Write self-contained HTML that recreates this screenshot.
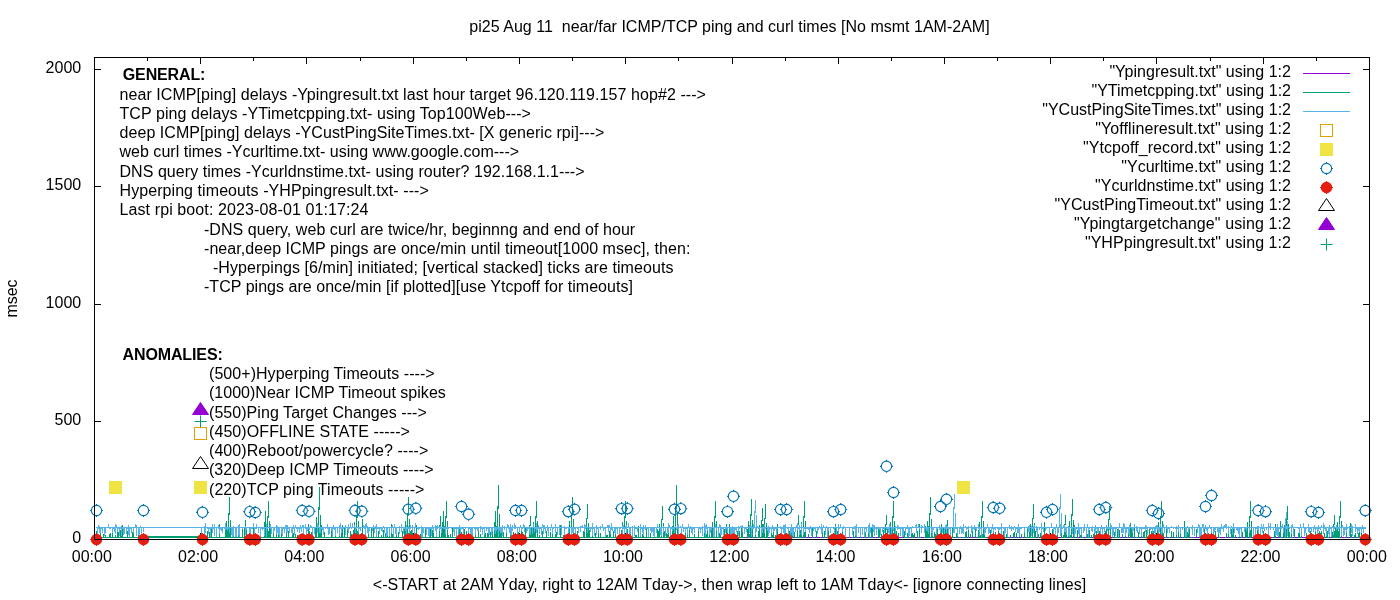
<!DOCTYPE html>
<html lang="en"><head><meta charset="utf-8"><title>pi25 ping and curl times</title>
<style>html,body{margin:0;padding:0;background:#fff;overflow:hidden}svg{display:block}text{font-family:"Liberation Sans",sans-serif;font-size:16px;fill:#000;white-space:pre}.b{font-weight:bold}</style></head><body>
<svg width="1400" height="600" viewBox="0 0 1400 600">
<rect x="0" y="0" width="1400" height="600" fill="#fff"/>
<text x="122.8" y="80.0" class="b" textLength="82.6" lengthAdjust="spacing" xml:space="preserve">GENERAL:</text>
<text x="119.5" y="100.0" textLength="586.4" lengthAdjust="spacing" xml:space="preserve">near ICMP[ping] delays -Ypingresult.txt last hour target 96.120.119.157 hop#2 ---&gt;</text>
<text x="119.5" y="119.0" textLength="411.4" lengthAdjust="spacing" xml:space="preserve">TCP ping delays -YTimetcpping.txt- using Top100Web---&gt;</text>
<text x="119.5" y="138.0" textLength="484.9" lengthAdjust="spacing" xml:space="preserve">deep ICMP[ping] delays -YCustPingSiteTimes.txt- [X generic rpi]---&gt;</text>
<text x="119.5" y="157.0" textLength="399.6" lengthAdjust="spacing" xml:space="preserve">web curl times -Ycurltime.txt- using www.google.com---&gt;</text>
<text x="119.5" y="177.0" textLength="465.0" lengthAdjust="spacing" xml:space="preserve">DNS query times -Ycurldnstime.txt- using router? 192.168.1.1---&gt;</text>
<text x="119.5" y="196.0" textLength="309.3" lengthAdjust="spacing" xml:space="preserve">Hyperping timeouts -YHPpingresult.txt- ---&gt;</text>
<text x="119.5" y="215.0" textLength="249.0" lengthAdjust="spacing" xml:space="preserve">Last rpi boot: 2023-08-01 01:17:24</text>
<text x="204.0" y="235.0" textLength="431.2" lengthAdjust="spacing" xml:space="preserve">-DNS query, web curl are twice/hr, beginnng and end of hour</text>
<text x="204.0" y="254.0" textLength="486.4" lengthAdjust="spacing" xml:space="preserve">-near,deep ICMP pings are once/min until timeout[1000 msec], then:</text>
<text x="212.9" y="273.0" textLength="460.5" lengthAdjust="spacing" xml:space="preserve">-Hyperpings [6/min] initiated; [vertical stacked] ticks are timeouts</text>
<text x="204.0" y="292.0" textLength="428.9" lengthAdjust="spacing" xml:space="preserve">-TCP pings are once/min [if plotted][use Ytcpoff for timeouts]</text>
<text x="122.5" y="360.0" class="b" textLength="100.3" lengthAdjust="spacing" xml:space="preserve">ANOMALIES:</text>
<text x="209.0" y="379.0" textLength="225.6" lengthAdjust="spacing" xml:space="preserve">(500+)Hyperping Timeouts ----&gt;</text>
<text x="209.0" y="398.0" textLength="236.8" lengthAdjust="spacing" xml:space="preserve">(1000)Near ICMP Timeout spikes</text>
<text x="209.0" y="418.0" textLength="217.8" lengthAdjust="spacing" xml:space="preserve">(550)Ping Target Changes ---&gt;</text>
<text x="209.0" y="437.0" textLength="200.9" lengthAdjust="spacing" xml:space="preserve">(450)OFFLINE STATE -----&gt;</text>
<text x="209.0" y="456.0" textLength="219.3" lengthAdjust="spacing" xml:space="preserve">(400)Reboot/powercycle? ----&gt;</text>
<text x="209.0" y="475.0" textLength="224.7" lengthAdjust="spacing" xml:space="preserve">(320)Deep ICMP Timeouts ----&gt;</text>
<text x="209.0" y="495.0" textLength="215.4" lengthAdjust="spacing" xml:space="preserve">(220)TCP ping Timeouts -----&gt;</text>
<path d="M94.5,539.5v-6.5M94.5,57.5v6.5M147.5,539.5v-3.5M147.5,57.5v3.5M200.5,539.5v-6.5M200.5,57.5v6.5M253.5,539.5v-3.5M253.5,57.5v3.5M306.5,539.5v-6.5M306.5,57.5v6.5M360.5,539.5v-3.5M360.5,57.5v3.5M413.5,539.5v-6.5M413.5,57.5v6.5M466.5,539.5v-3.5M466.5,57.5v3.5M519.5,539.5v-6.5M519.5,57.5v6.5M572.5,539.5v-3.5M572.5,57.5v3.5M625.5,539.5v-6.5M625.5,57.5v6.5M678.5,539.5v-3.5M678.5,57.5v3.5M732.5,539.5v-6.5M732.5,57.5v6.5M785.5,539.5v-3.5M785.5,57.5v3.5M838.5,539.5v-6.5M838.5,57.5v6.5M891.5,539.5v-3.5M891.5,57.5v3.5M944.5,539.5v-6.5M944.5,57.5v6.5M997.5,539.5v-3.5M997.5,57.5v3.5M1050.5,539.5v-6.5M1050.5,57.5v6.5M1103.5,539.5v-3.5M1103.5,57.5v3.5M1156.5,539.5v-6.5M1156.5,57.5v6.5M1210.5,539.5v-3.5M1210.5,57.5v3.5M1263.5,539.5v-6.5M1263.5,57.5v6.5M1316.5,539.5v-3.5M1316.5,57.5v3.5M1369.5,539.5v-6.5M1369.5,57.5v6.5M94.5,69.5h6.5M1369.5,69.5h-6.5M94.5,186.5h6.5M1369.5,186.5h-6.5M94.5,304.5h6.5M1369.5,304.5h-6.5M94.5,421.5h6.5M1369.5,421.5h-6.5M94.5,539.5h6.5M1369.5,539.5h-6.5" fill="none" stroke="#000" stroke-width="1" shape-rendering="crispEdges"/>
<path d="M742,537.5H1365.5" fill="none" stroke="#9400D3" stroke-width="1" shape-rendering="crispEdges"/>
<path d="M96,537.5H144.5M200.5,537.5H742M743,537.5h1M745,537.5h1M747,537.5h1M749,537.5h1M750,537.5h1M753,537.5h1M757,537.5h1M761,537.5h1M763,537.5h1M765,537.5h1M770,537.5h1M774,537.5h1M775,537.5h1M780,537.5h1M785,537.5h1M787,537.5h1M790,537.5h1M794,537.5h1M795,537.5h1M798,537.5h1M799,537.5h1M801,537.5h1M803,537.5h1M805,537.5h1M814,537.5h1M820,537.5h1M824,537.5h1M825,537.5h1M827,537.5h1M828,537.5h1M829,537.5h1M832,537.5h1M833,537.5h1M835,537.5h1M838,537.5h1M844,537.5h1M846,537.5h1M849,537.5h1M852,537.5h1M856,537.5h1M858,537.5h1M860,537.5h1M861,537.5h1M864,537.5h1M869,537.5h1M875,537.5h1M878,537.5h1M883,537.5h1M886,537.5h1M887,537.5h1M893,537.5h1M895,537.5h1M897,537.5h1M902,537.5h1M905,537.5h1M906,537.5h1M907,537.5h1M909,537.5h1M911,537.5h1M912,537.5h1M917,537.5h1M918,537.5h1M919,537.5h1M920,537.5h1M924,537.5h1M926,537.5h1M933,537.5h1M937,537.5h1M939,537.5h1M945,537.5h1M947,537.5h1M950,537.5h1M952,537.5h1M953,537.5h1M955,537.5h1M956,537.5h1M959,537.5h1M960,537.5h1M962,537.5h1M963,537.5h1M964,537.5h1M966,537.5h1M968,537.5h1M976,537.5h1M979,537.5h1M980,537.5h1M984,537.5h1M985,537.5h1M986,537.5h1M988,537.5h1M996,537.5h1M997,537.5h1M1004,537.5h1M1005,537.5h1M1008,537.5h1M1018,537.5h1M1022,537.5h1M1024,537.5h1M1026,537.5h1M1028,537.5h1M1029,537.5h1M1031,537.5h1M1033,537.5h1M1038,537.5h1M1041,537.5h1M1042,537.5h1M1057,537.5h1M1062,537.5h1M1066,537.5h1M1070,537.5h1M1073,537.5h1M1074,537.5h1M1075,537.5h1M1082,537.5h1M1083,537.5h1M1088,537.5h1M1095,537.5h1M1097,537.5h1M1099,537.5h1M1101,537.5h1M1108,537.5h1M1109,537.5h1M1110,537.5h1M1115,537.5h1M1116,537.5h1M1118,537.5h1M1127,537.5h1M1128,537.5h1M1131,537.5h1M1132,537.5h1M1136,537.5h1M1137,537.5h1M1138,537.5h1M1141,537.5h1M1145,537.5h1M1148,537.5h1M1149,537.5h1M1152,537.5h1M1157,537.5h1M1160,537.5h1M1165,537.5h1M1166,537.5h1M1168,537.5h1M1169,537.5h1M1173,537.5h1M1174,537.5h1M1175,537.5h1M1177,537.5h1M1182,537.5h1M1187,537.5h1M1188,537.5h1M1191,537.5h1M1193,537.5h1M1201,537.5h1M1202,537.5h1M1203,537.5h1M1209,537.5h1M1216,537.5h1M1219,537.5h1M1225,537.5h1M1232,537.5h1M1237,537.5h1M1238,537.5h1M1241,537.5h1M1242,537.5h1M1245,537.5h1M1247,537.5h1M1249,537.5h1M1251,537.5h1M1253,537.5h1M1255,537.5h1M1257,537.5h1M1259,537.5h1M1267,537.5h1M1272,537.5h1M1279,537.5h1M1280,537.5h1M1281,537.5h1M1286,537.5h1M1287,537.5h1M1288,537.5h1M1289,537.5h1M1292,537.5h1M1294,537.5h1M1299,537.5h1M1301,537.5h1M1306,537.5h1M1314,537.5h1M1315,537.5h1M1316,537.5h1M1317,537.5h1M1320,537.5h1M1326,537.5h1M1328,537.5h1M1333,537.5h1M1334,537.5h1M1344,537.5h1M1352,537.5h1M1357,537.5h1M1358,537.5h1M96.5,538V531M97.5,538V534M100.5,538V530M103.5,538V534M105.5,538V535M109.5,538V534M110.5,538V533M112.5,538V532M115.5,538V535M117.5,538V530M118.5,538V532M120.5,538V530M121.5,538V526M122.5,538V525M127.5,538V531M132.5,538V532M133.5,538V529M138.5,538V528M140.5,538V535M201.5,538V532M203.5,538V535M207.5,538V531M209.5,538V532M211.5,538V527M219.5,538V524M227.5,538V528M229.5,538V529M230.5,538V531M233.5,538V528M235.5,538V528M238.5,538V535M239.5,538V532M242.5,538V529M246.5,538V531M249.5,538V534M250.5,538V533M253.5,538V524M267.5,538V527M268.5,538V531M270.5,538V525M273.5,538V533M276.5,538V528M278.5,538V529M281.5,538V528M286.5,538V531M288.5,538V531M292.5,538V532M293.5,538V533M295.5,538V534M297.5,538V535M300.5,538V534M304.5,538V535M308.5,538V524M309.5,538V531M311.5,538V532M318.5,538V534M319.5,538V533M321.5,538V525M324.5,538V532M331.5,538V528M335.5,538V529M339.5,538V531M341.5,538V533M342.5,538V525M344.5,538V528M347.5,538V530M350.5,538V531M351.5,538V534M353.5,538V531M357.5,538V531M358.5,538V533M360.5,538V534M362.5,538V519M368.5,538V531M371.5,538V528M373.5,538V528M376.5,538V528M378.5,538V531M381.5,538V535M383.5,538V530M385.5,538V533M387.5,538V535M389.5,538V528M391.5,538V524M392.5,538V534M396.5,538V532M398.5,538V532M402.5,538V531M408.5,538V534M409.5,538V531M410.5,538V531M411.5,538V530M412.5,538V529M414.5,538V534M416.5,538V525M420.5,538V534M425.5,538V529M430.5,538V527M432.5,538V530M433.5,538V532M436.5,538V526M441.5,538V532M442.5,538V530M443.5,538V529M448.5,538V535M450.5,538V534M452.5,538V528M456.5,538V528M459.5,538V528M461.5,538V532M463.5,538V531M464.5,538V529M466.5,538V531M470.5,538V532M475.5,538V531M478.5,538V530M480.5,538V534M484.5,538V530M485.5,538V533M487.5,538V533M488.5,538V532M490.5,538V532M492.5,538V531M496.5,538V533M500.5,538V531M501.5,538V531M503.5,538V532M506.5,538V529M510.5,538V531M511.5,538V532M513.5,538V532M518.5,538V532M519.5,538V534M521.5,538V531M522.5,538V532M523.5,538V534M525.5,538V528M529.5,538V534M530.5,538V535M532.5,538V531M534.5,538V532M537.5,538V528M539.5,538V535M542.5,538V531M546.5,538V531M550.5,538V532M552.5,538V534M555.5,538V534M556.5,538V532M560.5,538V525M563.5,538V535M569.5,538V535M571.5,538V532M575.5,538V535M577.5,538V531M587.5,538V531M589.5,538V530M592.5,538V533M595.5,538V533M598.5,538V531M600.5,538V533M606.5,538V535M607.5,538V535M609.5,538V531M610.5,538V533M613.5,538V531M615.5,538V533M625.5,538V535M627.5,538V529M630.5,538V533M632.5,538V531M635.5,538V535M636.5,538V535M638.5,538V526M642.5,538V534M643.5,538V534M646.5,538V529M648.5,538V532M650.5,538V533M654.5,538V534M657.5,538V529M661.5,538V529M664.5,538V531M666.5,538V533M667.5,538V534M668.5,538V528M673.5,538V532M678.5,538V532M681.5,538V530M685.5,538V531M687.5,538V533M689.5,538V528M694.5,538V534M698.5,538V529M704.5,538V530M706.5,538V534M707.5,538V530M709.5,538V534M711.5,538V530M719.5,538V533M720.5,538V528M724.5,538V529M726.5,538V524M729.5,538V524M731.5,538V533M733.5,538V534M737.5,538V531M739.5,538V531M741.5,538V528M742.5,538V529M749.5,538V534M752.5,538V529M755.5,538V531M759.5,538V530M763.5,538V530M767.5,538V531M771.5,538V530M772.5,538V535M773.5,538V532M775.5,538V535M777.5,538V524M785.5,538V525M788.5,538V535M789.5,538V531M790.5,538V534M791.5,538V531M792.5,538V532M794.5,538V532M804.5,538V532M805.5,538V531M808.5,538V534M812.5,538V528M816.5,538V531M822.5,538V532M824.5,538V531M828.5,538V527M835.5,538V524M837.5,538V531M842.5,538V532M849.5,538V535M853.5,538V531M855.5,538V532M865.5,538V532M868.5,538V528M871.5,538V527M872.5,538V529M878.5,538V529M879.5,538V528M881.5,538V534M883.5,538V530M892.5,538V533M893.5,538V535M896.5,538V531M898.5,538V533M904.5,538V531M907.5,538V533M911.5,538V533M912.5,538V533M913.5,538V535M914.5,538V533M917.5,538V531M919.5,538V524M925.5,538V526M927.5,538V535M928.5,538V526M932.5,538V530M934.5,538V532M935.5,538V534M937.5,538V528M941.5,538V524M943.5,538V528M945.5,538V528M947.5,538V520M948.5,538V534M950.5,538V534M952.5,538V528M956.5,538V533M957.5,538V531M965.5,538V532M966.5,538V531M968.5,538V529M970.5,538V534M972.5,538V531M975.5,538V528M980.5,538V535M982.5,538V534M984.5,538V534M990.5,538V530M993.5,538V535M995.5,538V532M998.5,538V531M1003.5,538V531M1006.5,538V534M1007.5,538V534M1010.5,538V535M1013.5,538V533M1014.5,538V532M1016.5,538V533M1021.5,538V534M1024.5,538V532M1027.5,538V529M1029.5,538V535M1030.5,538V531M1035.5,538V531M1037.5,538V528M1038.5,538V534M1040.5,538V533M1041.5,538V527M1044.5,538V522M1049.5,538V531M1052.5,538V529M1053.5,538V533M1055.5,538V535M1057.5,538V531M1061.5,538V530M1063.5,538V535M1065.5,538V532M1070.5,538V535M1073.5,538V530M1074.5,538V525M1077.5,538V530M1080.5,538V535M1081.5,538V530M1086.5,538V532M1087.5,538V534M1089.5,538V530M1091.5,538V535M1093.5,538V534M1094.5,538V532M1095.5,538V535M1096.5,538V531M1099.5,538V531M1102.5,538V533M1104.5,538V533M1106.5,538V533M1110.5,538V531M1112.5,538V531M1114.5,538V532M1117.5,538V529M1119.5,538V530M1122.5,538V534M1125.5,538V533M1128.5,538V528M1130.5,538V523M1131.5,538V529M1132.5,538V529M1134.5,538V526M1138.5,538V532M1141.5,538V531M1143.5,538V532M1144.5,538V531M1146.5,538V530M1149.5,538V528M1151.5,538V531M1153.5,538V531M1157.5,538V532M1160.5,538V533M1163.5,538V533M1166.5,538V529M1171.5,538V531M1173.5,538V532M1176.5,538V534M1178.5,538V531M1180.5,538V529M1184.5,538V521M1185.5,538V529M1187.5,538V532M1188.5,538V530M1189.5,538V528M1196.5,538V529M1200.5,538V533M1201.5,538V529M1204.5,538V528M1208.5,538V533M1211.5,538V535M1213.5,538V532M1215.5,538V531M1218.5,538V532M1226.5,538V533M1228.5,538V531M1231.5,538V529M1232.5,538V530M1233.5,538V529M1235.5,538V535M1242.5,538V532M1245.5,538V528M1247.5,538V531M1249.5,538V531M1250.5,538V530M1253.5,538V533M1257.5,538V529M1258.5,538V534M1263.5,538V531M1264.5,538V535M1265.5,538V535M1266.5,538V535M1274.5,538V531M1275.5,538V524M1279.5,538V532M1280.5,538V521M1285.5,538V535M1286.5,538V533M1289.5,538V532M1291.5,538V533M1294.5,538V529M1298.5,538V533M1299.5,538V528M1301.5,538V531M1306.5,538V533M1308.5,538V535M1310.5,538V531M1313.5,538V535M1315.5,538V531M1317.5,538V533M1319.5,538V531M1320.5,538V533M1321.5,538V531M1324.5,538V533M1326.5,538V530M1327.5,538V531M1329.5,538V532M1332.5,538V532M1334.5,538V531M1336.5,538V529M1338.5,538V531M1339.5,538V534M1341.5,538V531M1346.5,538V532M1350.5,538V523M1351.5,538V534M1354.5,538V535M1355.5,538V533M1358.5,538V533M1359.5,538V532M1361.5,538V533" fill="none" stroke="#009E73" stroke-width="1" shape-rendering="crispEdges"/>
<path d="M144,537H201" fill="none" stroke="#009E73" stroke-width="2" shape-rendering="crispEdges"/>
<path d="M229.5,497V515M228.5,513V538M230.5,520V538M226.5,521V538M225.5,529V538M245.5,520V528M244.5,527V538M246.5,530V538M265.5,511V523M264.5,522V538M266.5,526V538M268.5,501V518M267.5,516V538M269.5,521V538M265.5,522V538M264.5,530V538M319.5,487V510M318.5,507V538M320.5,515V538M316.5,517V538M315.5,527V538M357.5,501V518M356.5,516V538M358.5,521V538M354.5,522V538M353.5,530V538M408.5,497V515M407.5,513V538M409.5,519V538M405.5,521V538M404.5,529V538M440.5,516V526M439.5,525V538M441.5,528V538M443.5,511V523M442.5,522V538M444.5,526V538M446.5,501V518M445.5,516V538M447.5,521V538M443.5,522V538M442.5,530V538M495.5,511V523M494.5,522V538M496.5,526V538M498.5,485V509M497.5,506V538M499.5,514V538M495.5,516V538M494.5,526V538M530.5,516V526M529.5,525V538M531.5,528V538M536.5,501V518M535.5,516V538M537.5,521V538M533.5,522V538M532.5,530V538M572.5,497V515M571.5,513V538M573.5,519V538M569.5,521V538M568.5,529V538M587.5,504V519M586.5,518V538M588.5,523V538M584.5,524V538M583.5,531V538M625.5,501V518M624.5,516V538M626.5,521V538M622.5,522V538M621.5,530V538M662.5,506V520M661.5,519V538M663.5,523V538M659.5,524V538M658.5,531V538M676.5,485V509M675.5,506V538M677.5,514V538M673.5,516V538M672.5,526V538M715.5,501V518M714.5,516V538M716.5,521V538M712.5,522V538M711.5,530V538M751.5,499V516M750.5,514V538M752.5,520V538M748.5,521V538M747.5,529V538M762.5,508V521M761.5,520V538M763.5,524V538M759.5,525V538M758.5,531V538M765.5,504V519M764.5,518V538M766.5,523V538M762.5,524V538M761.5,530V538M798.5,515V525M797.5,524V538M799.5,528V538M804.5,501V518M803.5,516V538M805.5,521V538M801.5,522V538M800.5,530V538M886.5,515V525M885.5,524V538M887.5,528V538M893.5,501V518M892.5,516V538M894.5,521V538M890.5,522V538M889.5,530V538M930.5,497V515M929.5,513V538M931.5,519V538M927.5,521V538M926.5,529V538M982.5,501V518M981.5,516V538M983.5,521V538M979.5,522V538M978.5,530V538M1033.5,504V519M1032.5,518V538M1034.5,523V538M1030.5,524V538M1029.5,530V538M1065.5,515V525M1064.5,524V538M1066.5,528V538M1072.5,499V516M1071.5,514V538M1073.5,520V538M1069.5,521V538M1068.5,529V538M1109.5,506V520M1108.5,519V538M1110.5,524V538M1106.5,525V538M1105.5,531V538M1161.5,501V518M1160.5,516V538M1162.5,521V538M1158.5,522V538M1157.5,530V538M1250.5,501V518M1249.5,516V538M1251.5,521V538M1247.5,522V538M1246.5,530V538M1287.5,506V520M1286.5,519V538M1288.5,524V538M1284.5,525V538M1283.5,531V538M1334.5,515V525M1333.5,524V538M1335.5,528V538M1340.5,501V518M1339.5,516V538M1341.5,521V538M1337.5,522V538M1336.5,530V538" fill="none" stroke="#009E73" stroke-width="1" shape-rendering="crispEdges"/>
<path d="M96,527.5H1365.5M97.5,527V537M98,528.5h1M98.5,527V525M99.5,527V533M99.5,527V526M100.5,527V533M101,528.5h1M102.5,527V533M104.5,527V536M105.5,527V533M108.5,527V524M109,528.5h1M110,528.5h1M112.5,527V533M113,528.5h1M114.5,527V532M115.5,527V534M115.5,527V524M116.5,527V525M117.5,527V532M118,528.5h1M119.5,527V536M120,528.5h1M121.5,527V536M122,528.5h1M123.5,527V535M124.5,527V534M126.5,527V534M127,528.5h1M128.5,527V535M128.5,527V525M129.5,527V537M130,528.5h1M131.5,527V533M133.5,527V533M135.5,527V524M136.5,527V536M136.5,527V525M138.5,527V535M139.5,527V537M140.5,527V526M141.5,527V537M143.5,527V532M201.5,527V536M204.5,527V536M204.5,527V526M205.5,527V533M205.5,527V523M207,528.5h1M208.5,527V534M209,528.5h1M210.5,527V537M211,528.5h1M212.5,527V533M212.5,527V524M213,528.5h1M214.5,527V536M214.5,527V524M216.5,527V537M218,528.5h1M218.5,527V525M219.5,527V534M220.5,527V530M221.5,527V531M222.5,527V533M224,528.5h1M225.5,527V530M225.5,527V523M226,528.5h1M227.5,527V531M228,528.5h1M229.5,527V533M231.5,527V535M232.5,527V537M233.5,527V537M233.5,527V526M235.5,527V537M236.5,527V537M238.5,527V535M238.5,527V525M239.5,527V537M239.5,527V524M242,528.5h1M245.5,527V535M245.5,527V526M246.5,527V530M249.5,527V537M250.5,527V534M251,528.5h1M252,528.5h1M253.5,527V523M254.5,527V534M255,528.5h1M256,528.5h1M256.5,527V524M258.5,527V533M260.5,527V537M261,528.5h1M262.5,527V530M263,528.5h1M264.5,527V536M266.5,527V537M266.5,527V524M267,528.5h1M270,528.5h1M270.5,527V524M271.5,527V534M273.5,527V533M274.5,527V531M276.5,527V534M276.5,527V525M277.5,527V533M277.5,527V526M278.5,527V535M279.5,527V537M281.5,527V534M282.5,527V536M283,528.5h1M284.5,527V533M285,528.5h1M285.5,527V525M286.5,527V533M286.5,527V525M287.5,527V533M287.5,527V525M288,528.5h1M289.5,527V533M291.5,527V533M292.5,527V535M293,528.5h1M293.5,527V525M294.5,527V535M295.5,527V525M296,528.5h1M297.5,527V532M298,528.5h1M299.5,527V533M300,528.5h1M300.5,527V525M301.5,527V532M302.5,527V525M303.5,527V535M303.5,527V525M305,528.5h1M305.5,527V524M306.5,527V536M307.5,527V531M308,528.5h1M309.5,527V530M310.5,527V525M311.5,527V526M312.5,527V535M314.5,527V534M317.5,527V533M317.5,527V523M318.5,527V525M319.5,527V533M320.5,527V533M321,528.5h1M322.5,527V530M323.5,527V535M325,528.5h1M327,528.5h1M327.5,527V524M328.5,527V535M329.5,527V534M331.5,527V531M332.5,527V537M333,528.5h1M333.5,527V525M334.5,527V530M335.5,527V536M337.5,527V533M339.5,527V536M339.5,527V525M340,528.5h1M340.5,527V523M341.5,527V533M342,528.5h1M343,528.5h1M345.5,527V535M345.5,527V525M347.5,527V530M348.5,527V533M348.5,527V524M349,528.5h1M350.5,527V523M351,528.5h1M352.5,527V523M354.5,527V525M355.5,527V535M356,528.5h1M358.5,527V533M359,528.5h1M360.5,527V531M363.5,527V525M364,528.5h1M364.5,527V526M365.5,527V536M365.5,527V524M366.5,527V523M367.5,527V533M367.5,527V526M368.5,527V534M369.5,527V531M372.5,527V531M373.5,527V525M374.5,527V533M375,528.5h1M375.5,527V526M376.5,527V537M376.5,527V524M377,528.5h1M378,528.5h1M379.5,527V534M380,528.5h1M381.5,527V531M382.5,527V532M383.5,527V526M384.5,527V533M386.5,527V537M387.5,527V536M389.5,527V536M391.5,527V533M392.5,527V525M393.5,527V537M394.5,527V524M395.5,527V534M396.5,527V535M399.5,527V534M399.5,527V526M401.5,527V532M401.5,527V524M403.5,527V534M404,528.5h1M405.5,527V531M406.5,527V536M406.5,527V525M407,528.5h1M408,528.5h1M408.5,527V526M409.5,527V533M410,528.5h1M410.5,527V525M412.5,527V533M412.5,527V525M414.5,527V534M415.5,527V523M417,528.5h1M418.5,527V530M419,528.5h1M421.5,527V537M421.5,527V526M422.5,527V537M423.5,527V533M425,528.5h1M426.5,527V535M427,528.5h1M428.5,527V536M429.5,527V537M430,528.5h1M431.5,527V536M432,528.5h1M432.5,527V525M433.5,527V533M435.5,527V531M435.5,527V525M436.5,527V537M437,528.5h1M437.5,527V525M439.5,527V531M440,528.5h1M440.5,527V526M441.5,527V533M443,528.5h1M444,528.5h1M445.5,527V535M446,528.5h1M447.5,527V530M448,528.5h1M451,528.5h1M453.5,527V532M454.5,527V536M455,528.5h1M456.5,527V537M457,528.5h1M458.5,527V537M459,528.5h1M459.5,527V525M460.5,527V536M461,528.5h1M462,528.5h1M463.5,527V535M465,528.5h1M468.5,527V535M469,528.5h1M470.5,527V534M471.5,527V537M472.5,527V536M474,528.5h1M475.5,527V535M476,528.5h1M477.5,527V531M478.5,527V531M480.5,527V532M480.5,527V526M481,528.5h1M482.5,527V535M483,528.5h1M484.5,527V535M486.5,527V531M487,528.5h1M488.5,527V534M489.5,527V535M491.5,527V535M492.5,527V532M494.5,527V530M495.5,527V534M496.5,527V531M497,528.5h1M498.5,527V537M499.5,527V531M500.5,527V533M501.5,527V533M502.5,527V536M502.5,527V525M504.5,527V530M504.5,527V526M506.5,527V533M507.5,527V524M508,528.5h1M508.5,527V525M509.5,527V533M510.5,527V535M510.5,527V524M511.5,527V537M512.5,527V531M512.5,527V525M514,528.5h1M514.5,527V523M515,528.5h1M515.5,527V525M517.5,527V535M519.5,527V532M520.5,527V525M521.5,527V531M522,528.5h1M523.5,527V524M524.5,527V532M524.5,527V525M526.5,527V533M527.5,527V531M528,528.5h1M529.5,527V533M530.5,527V535M532.5,527V534M533.5,527V524M534.5,527V532M535,528.5h1M536.5,527V533M536.5,527V523M537.5,527V530M538,528.5h1M538.5,527V525M539.5,527V534M540,528.5h1M541.5,527V535M542.5,527V524M543.5,527V534M543.5,527V525M544,528.5h1M544.5,527V525M545.5,527V533M547.5,527V531M547.5,527V525M548.5,527V536M550.5,527V531M551.5,527V524M552.5,527V534M553,528.5h1M555.5,527V533M555.5,527V524M557.5,527V535M559.5,527V535M559.5,527V525M561.5,527V535M561.5,527V525M564.5,527V536M564.5,527V526M565,528.5h1M566,528.5h1M568.5,527V536M569,528.5h1M571.5,527V535M572.5,527V533M573.5,527V533M574,528.5h1M575.5,527V534M577,528.5h1M578.5,527V533M580.5,527V532M580.5,527V526M581.5,527V526M582.5,527V525M584.5,527V532M584.5,527V524M585,528.5h1M585.5,527V525M586.5,527V526M587.5,527V533M589,528.5h1M590.5,527V532M591,528.5h1M592.5,527V536M592.5,527V523M593,528.5h1M594.5,527V536M596.5,527V535M596.5,527V525M597,528.5h1M598.5,527V533M600.5,527V530M600.5,527V526M602.5,527V524M603.5,527V531M604,528.5h1M605.5,527V537M607.5,527V525M608.5,527V532M608.5,527V525M609.5,527V525M610.5,527V534M611.5,527V530M611.5,527V523M612.5,527V531M614.5,527V533M615.5,527V534M616,528.5h1M617.5,527V534M619.5,527V537M620,528.5h1M622.5,527V537M622.5,527V525M623,528.5h1M623.5,527V525M624.5,527V537M625,528.5h1M625.5,527V526M626.5,527V534M626.5,527V525M628.5,527V523M629.5,527V537M630.5,527V534M632.5,527V537M632.5,527V526M634.5,527V536M634.5,527V525M635,528.5h1M636,528.5h1M637.5,527V532M640.5,527V537M640.5,527V524M641,528.5h1M642.5,527V533M643.5,527V536M643.5,527V525M644,528.5h1M645.5,527V530M645.5,527V525M646,528.5h1M647,528.5h1M648.5,527V537M650.5,527V531M651.5,527V533M652.5,527V532M653.5,527V536M654.5,527V537M656.5,527V533M657.5,527V524M659,528.5h1M660.5,527V535M661.5,527V536M663.5,527V533M663.5,527V526M665.5,527V536M667.5,527V533M668.5,527V533M668.5,527V523M669.5,527V525M670.5,527V536M671,528.5h1M672.5,527V531M673,528.5h1M674.5,527V533M675.5,527V526M676.5,527V530M677,528.5h1M677.5,527V525M678.5,527V535M678.5,527V524M680.5,527V526M681.5,527V535M682.5,527V524M683.5,527V532M684,528.5h1M685.5,527V533M686,528.5h1M687.5,527V535M688.5,527V524M689.5,527V530M690,528.5h1M690.5,527V526M691.5,527V533M692.5,527V535M693,528.5h1M694.5,527V533M698.5,527V531M699,528.5h1M700.5,527V533M701,528.5h1M702.5,527V536M702.5,527V526M704.5,527V533M704.5,527V523M705.5,527V537M705.5,527V525M706,528.5h1M706.5,527V524M707.5,527V531M709.5,527V535M710.5,527V533M711.5,527V530M713.5,527V537M714.5,527V537M715.5,527V524M716.5,527V531M718.5,527V537M719.5,527V524M720.5,527V535M720.5,527V525M721.5,527V535M722,528.5h1M723.5,527V535M725.5,527V533M726,528.5h1M727.5,527V534M729,528.5h1M730.5,527V535M731.5,527V535M732.5,527V535M732.5,527V526M733.5,527V535M734.5,527V534M735.5,527V530M736.5,527V532M738.5,527V536M738.5,527V526M739,528.5h1M740.5,527V526M741.5,527V526M742.5,527V532M742.5,527V525M744.5,527V534M745,528.5h1M746.5,527V532M749.5,527V533M749.5,527V525M750.5,527V526M751.5,527V537M751.5,527V526M752,528.5h1M753,528.5h1M753.5,527V524M755.5,527V535M756.5,527V532M756.5,527V526M757.5,527V526M758,528.5h1M759,528.5h1M761.5,527V536M762.5,527V533M763,528.5h1M764.5,527V533M764.5,527V524M765,528.5h1M767.5,527V531M768.5,527V536M768.5,527V526M769.5,527V533M770,528.5h1M771.5,527V533M772,528.5h1M772.5,527V525M773.5,527V532M774.5,527V531M775,528.5h1M776.5,527V536M777,528.5h1M780,528.5h1M780.5,527V526M781.5,527V537M782,528.5h1M783.5,527V533M783.5,527V525M784.5,527V537M784.5,527V525M785.5,527V533M785.5,527V524M787,528.5h1M788.5,527V536M790.5,527V535M791.5,527V533M791.5,527V524M792.5,527V536M793.5,527V537M795.5,527V532M796.5,527V525M797.5,527V531M797.5,527V523M798,528.5h1M799.5,527V535M799.5,527V525M801.5,527V535M801.5,527V523M803.5,527V535M804,528.5h1M805.5,527V532M806,528.5h1M807,528.5h1M808.5,527V530M809.5,527V533M810,528.5h1M810.5,527V526M811.5,527V536M813.5,527V531M814,528.5h1M815.5,527V532M817.5,527V534M818.5,527V530M819.5,527V526M820,528.5h1M821.5,527V534M821.5,527V524M822.5,527V533M823.5,527V525M825.5,527V535M826.5,527V526M827.5,527V537M828.5,527V531M830.5,527V533M833,528.5h1M834.5,527V537M835.5,527V526M836.5,527V537M838.5,527V535M838.5,527V524M839,528.5h1M840.5,527V524M842.5,527V532M843,528.5h1M843.5,527V526M845.5,527V536M849.5,527V537M852.5,527V535M853,528.5h1M854,528.5h1M854.5,527V526M855.5,527V536M855.5,527V526M856.5,527V537M856.5,527V524M858.5,527V533M860.5,527V537M862.5,527V535M864.5,527V537M865,528.5h1M866.5,527V532M868.5,527V533M868.5,527V525M869.5,527V537M869.5,527V523M870.5,527V533M872,528.5h1M872.5,527V524M873.5,527V532M873.5,527V525M874.5,527V536M874.5,527V525M875,528.5h1M876.5,527V535M877,528.5h1M878,528.5h1M879.5,527V530M880.5,527V535M882.5,527V532M883,528.5h1M884.5,527V533M886.5,527V530M887,528.5h1M888.5,527V533M889.5,527V535M889.5,527V524M890.5,527V526M891.5,527V536M892,528.5h1M893.5,527V531M895.5,527V536M895.5,527V526M897.5,527V530M897.5,527V525M898,528.5h1M898.5,527V526M899,528.5h1M900.5,527V536M901,528.5h1M902.5,527V537M903.5,527V537M905.5,527V535M906,528.5h1M907,528.5h1M907.5,527V525M908.5,527V537M909.5,527V536M910,528.5h1M911.5,527V534M912.5,527V526M915.5,527V525M916.5,527V533M916.5,527V524M918.5,527V524M919,528.5h1M921.5,527V533M921.5,527V525M922.5,527V526M924.5,527V533M924.5,527V524M925,528.5h1M926.5,527V531M927.5,527V531M928.5,527V534M931.5,527V533M932.5,527V536M933.5,527V530M936.5,527V537M937,528.5h1M939.5,527V530M939.5,527V525M940.5,527V536M941,528.5h1M942.5,527V533M944.5,527V534M945,528.5h1M945.5,527V525M946.5,527V533M946.5,527V524M947,528.5h1M947.5,527V526M948.5,527V536M949,528.5h1M950.5,527V536M953.5,527V533M954.5,527V533M955,528.5h1M956,528.5h1M957.5,527V536M959.5,527V534M960,528.5h1M960.5,527V526M961.5,527V534M962.5,527V533M963.5,527V534M963.5,527V524M965.5,527V526M966.5,527V530M967,528.5h1M968.5,527V530M968.5,527V526M971.5,527V533M971.5,527V525M972.5,527V531M973,528.5h1M974.5,527V530M974.5,527V525M975,528.5h1M976.5,527V531M978,528.5h1M978.5,527V524M979.5,527V536M980,528.5h1M981.5,527V537M983,528.5h1M984.5,527V535M985.5,527V533M986,528.5h1M987.5,527V524M988.5,527V534M989.5,527V533M991.5,527V533M992,528.5h1M992.5,527V524M993.5,527V537M994,528.5h1M995.5,527V530M997,528.5h1M998.5,527V531M999.5,527V530M1000,528.5h1M1001.5,527V536M1001.5,527V523M1003,528.5h1M1004.5,527V537M1005.5,527V533M1007.5,527V537M1009,528.5h1M1009.5,527V525M1010,528.5h1M1011.5,527V531M1011.5,527V526M1012,528.5h1M1013.5,527V530M1014.5,527V526M1015.5,527V532M1016,528.5h1M1017.5,527V533M1018.5,527V533M1018.5,527V524M1019.5,527V537M1020,528.5h1M1021,528.5h1M1024.5,527V533M1027,528.5h1M1028.5,527V532M1028.5,527V526M1029.5,527V532M1029.5,527V525M1031.5,527V536M1031.5,527V526M1032,528.5h1M1033.5,527V533M1033.5,527V526M1034,528.5h1M1034.5,527V525M1036.5,527V532M1036.5,527V526M1037.5,527V537M1039.5,527V530M1041.5,527V536M1041.5,527V523M1042,528.5h1M1043.5,527V532M1045.5,527V531M1046,528.5h1M1049.5,527V536M1051.5,527V523M1053.5,527V537M1054,528.5h1M1055.5,527V534M1056.5,527V524M1057.5,527V535M1058.5,527V533M1060.5,527V536M1060.5,527V524M1061.5,527V533M1061.5,527V525M1062,528.5h1M1063.5,527V525M1064.5,527V532M1064.5,527V525M1065.5,527V532M1066.5,527V535M1068.5,527V536M1068.5,527V526M1069.5,527V537M1071,528.5h1M1072.5,527V534M1074.5,527V537M1075.5,527V534M1076,528.5h1M1077,528.5h1M1078.5,527V534M1078.5,527V523M1079.5,527V537M1080,528.5h1M1081.5,527V535M1083.5,527V533M1084.5,527V531M1084.5,527V524M1086.5,527V537M1087.5,527V524M1088.5,527V537M1089,528.5h1M1091.5,527V531M1092.5,527V532M1092.5,527V526M1094.5,527V533M1095.5,527V533M1095.5,527V525M1096,528.5h1M1097.5,527V533M1098.5,527V534M1100.5,527V535M1101,528.5h1M1101.5,527V525M1102.5,527V537M1103,528.5h1M1104.5,527V532M1106,528.5h1M1106.5,527V525M1107.5,527V531M1108,528.5h1M1109.5,527V530M1110,528.5h1M1110.5,527V523M1111,528.5h1M1111.5,527V525M1112.5,527V537M1113.5,527V535M1114,528.5h1M1115.5,527V536M1116,528.5h1M1118.5,527V537M1119.5,527V523M1121.5,527V533M1122.5,527V533M1123.5,527V533M1123.5,527V523M1124,528.5h1M1124.5,527V524M1125.5,527V536M1126.5,527V533M1127,528.5h1M1128.5,527V534M1129.5,527V536M1129.5,527V525M1130.5,527V526M1131,528.5h1M1132.5,527V533M1133.5,527V531M1134.5,527V524M1136.5,527V531M1136.5,527V526M1137.5,527V533M1139.5,527V534M1140,528.5h1M1141.5,527V536M1142,528.5h1M1143,528.5h1M1144,528.5h1M1145.5,527V532M1145.5,527V525M1146,528.5h1M1146.5,527V526M1147.5,527V535M1149,528.5h1M1150.5,527V530M1151,528.5h1M1152.5,527V537M1153,528.5h1M1154.5,527V533M1155.5,527V537M1155.5,527V526M1156,528.5h1M1156.5,527V525M1157.5,527V530M1157.5,527V525M1158.5,527V534M1159.5,527V532M1160.5,527V524M1161.5,527V535M1162.5,527V533M1163.5,527V524M1164.5,527V533M1166,528.5h1M1166.5,527V525M1167.5,527V533M1168,528.5h1M1169.5,527V533M1171.5,527V526M1173,528.5h1M1175,528.5h1M1176.5,527V535M1176.5,527V526M1177,528.5h1M1178.5,527V532M1178.5,527V525M1180.5,527V534M1182.5,527V530M1185.5,527V537M1186.5,527V537M1187.5,527V526M1188.5,527V534M1189,528.5h1M1191,528.5h1M1192.5,527V535M1192.5,527V525M1194.5,527V536M1197.5,527V533M1198.5,527V524M1199.5,527V537M1199.5,527V525M1200.5,527V536M1201.5,527V535M1202.5,527V524M1203.5,527V532M1203.5,527V524M1204,528.5h1M1205,528.5h1M1205.5,527V525M1206.5,527V531M1207.5,527V537M1208,528.5h1M1209.5,527V525M1210,528.5h1M1211.5,527V534M1213.5,527V534M1214.5,527V532M1215.5,527V530M1217.5,527V532M1218.5,527V534M1219.5,527V533M1220.5,527V535M1221,528.5h1M1221.5,527V524M1222,528.5h1M1223.5,527V532M1223.5,527V526M1224.5,527V525M1225.5,527V524M1226,528.5h1M1226.5,527V524M1228.5,527V534M1228.5,527V526M1230.5,527V534M1231.5,527V526M1232.5,527V535M1233,528.5h1M1233.5,527V523M1234.5,527V533M1236.5,527V530M1237.5,527V531M1238.5,527V534M1239.5,527V537M1240,528.5h1M1241.5,527V537M1244.5,527V532M1245,528.5h1M1246.5,527V531M1249.5,527V533M1253.5,527V537M1255.5,527V536M1256,528.5h1M1257.5,527V530M1257.5,527V526M1258.5,527V533M1258.5,527V526M1260.5,527V536M1261,528.5h1M1261.5,527V524M1262.5,527V533M1263,528.5h1M1263.5,527V524M1264.5,527V531M1266.5,527V530M1268.5,527V535M1268.5,527V523M1269.5,527V526M1270.5,527V530M1270.5,527V523M1273.5,527V530M1275.5,527V536M1276.5,527V535M1277.5,527V536M1277.5,527V524M1278.5,527V537M1279,528.5h1M1280,528.5h1M1281,528.5h1M1281.5,527V526M1282.5,527V524M1283.5,527V533M1285.5,527V537M1286,528.5h1M1286.5,527V526M1287.5,527V536M1289,528.5h1M1291.5,527V534M1291.5,527V525M1292.5,527V524M1293.5,527V536M1298,528.5h1M1299.5,527V533M1300.5,527V524M1301.5,527V536M1303.5,527V523M1304.5,527V536M1305.5,527V533M1306,528.5h1M1308.5,527V532M1308.5,527V524M1309.5,527V533M1310,528.5h1M1311.5,527V532M1313.5,527V532M1314,528.5h1M1314.5,527V525M1315.5,527V532M1316,528.5h1M1317.5,527V535M1318.5,527V531M1318.5,527V525M1319,528.5h1M1320.5,527V530M1321.5,527V525M1323.5,527V534M1323.5,527V523M1324,528.5h1M1324.5,527V525M1325.5,527V531M1326.5,527V536M1328.5,527V534M1329.5,527V537M1329.5,527V525M1330,528.5h1M1331.5,527V537M1332.5,527V526M1333.5,527V535M1334,528.5h1M1334.5,527V526M1336.5,527V530M1336.5,527V525M1337,528.5h1M1338.5,527V530M1339,528.5h1M1339.5,527V524M1341.5,527V536M1342.5,527V525M1343.5,527V536M1344.5,527V535M1345.5,527V530M1346.5,527V533M1346.5,527V524M1347,528.5h1M1349.5,527V536M1349.5,527V526M1351.5,527V533M1351.5,527V524M1352.5,527V536M1352.5,527V526M1355.5,527V532M1355.5,527V524M1356,528.5h1M1357.5,527V534M1358.5,527V531M1359.5,527V532M1360,528.5h1M1361.5,527V533M1362,528.5h1M1362.5,527V525M1363.5,527V533M1364,528.5h1M1365,528.5h1" fill="none" stroke="#56B4E9" stroke-width="1" shape-rendering="crispEdges"/>
<path d="M755.5,500V513M754.5,511V528M756.5,515V528M954.5,494V509M953.5,507V528M955.5,513V528M1060.5,494V509M1059.5,507V528M1061.5,513V528M1286.5,512V519M1285.5,518V528M1287.5,521V528" fill="none" stroke="#56B4E9" stroke-width="1" shape-rendering="crispEdges"/>
<rect x="194.5" y="427.5" width="12.0" height="12.0" fill="none" stroke="#E69F00" stroke-width="1"/>
<rect x="109.5" y="481.5" width="12.0" height="12.0" fill="#F0E442" stroke="#F0E442" stroke-width="1"/>
<rect x="194.5" y="481.5" width="12.0" height="12.0" fill="#F0E442" stroke="#F0E442" stroke-width="1"/>
<rect x="957.5" y="481.5" width="12.0" height="12.0" fill="#F0E442" stroke="#F0E442" stroke-width="1"/>
<circle cx="96.5" cy="510.5" r="5.15" fill="none" stroke="#0072B2" stroke-width="1.1"/>
<path d="M96.5,504.0V505.4M96.5,515.6V517.0M90.0,510.5H91.3M101.7,510.5H103.0" stroke="#0072B2" stroke-width="1.2" fill="none"/>
<circle cx="143.5" cy="510.5" r="5.15" fill="none" stroke="#0072B2" stroke-width="1.1"/>
<path d="M143.5,504.0V505.4M143.5,515.6V517.0M137.0,510.5H138.3M148.7,510.5H150.0" stroke="#0072B2" stroke-width="1.2" fill="none"/>
<circle cx="202.5" cy="512.3" r="5.15" fill="none" stroke="#0072B2" stroke-width="1.1"/>
<path d="M202.5,505.8V507.1M202.5,517.4V518.8M196.0,512.3H197.3M207.7,512.3H209.0" stroke="#0072B2" stroke-width="1.2" fill="none"/>
<circle cx="249.7" cy="511.7" r="5.15" fill="none" stroke="#0072B2" stroke-width="1.1"/>
<path d="M249.7,505.2V506.6M249.7,516.9V518.2M243.2,511.7H244.5M254.8,511.7H256.2" stroke="#0072B2" stroke-width="1.2" fill="none"/>
<circle cx="255.3" cy="512.5" r="5.15" fill="none" stroke="#0072B2" stroke-width="1.1"/>
<path d="M255.3,506.0V507.4M255.3,517.6V519.0M248.8,512.5H250.2M260.4,512.5H261.8" stroke="#0072B2" stroke-width="1.2" fill="none"/>
<circle cx="302.2" cy="510.5" r="5.15" fill="none" stroke="#0072B2" stroke-width="1.1"/>
<path d="M302.2,504.0V505.4M302.2,515.6V517.0M295.7,510.5H297.1M307.3,510.5H308.7" stroke="#0072B2" stroke-width="1.2" fill="none"/>
<circle cx="309.0" cy="511.3" r="5.15" fill="none" stroke="#0072B2" stroke-width="1.1"/>
<path d="M309.0,504.8V506.2M309.0,516.5V517.8M302.5,511.3H303.9M314.1,511.3H315.5" stroke="#0072B2" stroke-width="1.2" fill="none"/>
<circle cx="355.0" cy="510.5" r="5.15" fill="none" stroke="#0072B2" stroke-width="1.1"/>
<path d="M355.0,504.0V505.4M355.0,515.6V517.0M348.5,510.5H349.9M360.1,510.5H361.5" stroke="#0072B2" stroke-width="1.2" fill="none"/>
<circle cx="361.8" cy="511.3" r="5.15" fill="none" stroke="#0072B2" stroke-width="1.1"/>
<path d="M361.8,504.8V506.2M361.8,516.5V517.8M355.3,511.3H356.7M366.9,511.3H368.3" stroke="#0072B2" stroke-width="1.2" fill="none"/>
<circle cx="408.3" cy="509.3" r="5.15" fill="none" stroke="#0072B2" stroke-width="1.1"/>
<path d="M408.3,502.8V504.2M408.3,514.5V515.8M401.8,509.3H403.2M413.4,509.3H414.8" stroke="#0072B2" stroke-width="1.2" fill="none"/>
<circle cx="415.8" cy="508.3" r="5.15" fill="none" stroke="#0072B2" stroke-width="1.1"/>
<path d="M415.8,501.8V503.2M415.8,513.5V514.8M409.3,508.3H410.7M420.9,508.3H422.3" stroke="#0072B2" stroke-width="1.2" fill="none"/>
<circle cx="461.5" cy="506.5" r="5.15" fill="none" stroke="#0072B2" stroke-width="1.1"/>
<path d="M461.5,500.0V501.4M461.5,511.6V513.0M455.0,506.5H456.4M466.6,506.5H468.0" stroke="#0072B2" stroke-width="1.2" fill="none"/>
<circle cx="468.6" cy="514.3" r="5.15" fill="none" stroke="#0072B2" stroke-width="1.1"/>
<path d="M468.6,507.8V509.1M468.6,519.4V520.8M462.1,514.3H463.5M473.8,514.3H475.1" stroke="#0072B2" stroke-width="1.2" fill="none"/>
<circle cx="515.5" cy="510.5" r="5.15" fill="none" stroke="#0072B2" stroke-width="1.1"/>
<path d="M515.5,504.0V505.4M515.5,515.6V517.0M509.0,510.5H510.4M520.6,510.5H522.0" stroke="#0072B2" stroke-width="1.2" fill="none"/>
<circle cx="521.5" cy="510.5" r="5.15" fill="none" stroke="#0072B2" stroke-width="1.1"/>
<path d="M521.5,504.0V505.4M521.5,515.6V517.0M515.0,510.5H516.4M526.6,510.5H528.0" stroke="#0072B2" stroke-width="1.2" fill="none"/>
<circle cx="568.3" cy="511.6" r="5.15" fill="none" stroke="#0072B2" stroke-width="1.1"/>
<path d="M568.3,505.1V506.5M568.3,516.8V518.1M561.8,511.6H563.1M573.4,511.6H574.8" stroke="#0072B2" stroke-width="1.2" fill="none"/>
<circle cx="574.5" cy="509.3" r="5.15" fill="none" stroke="#0072B2" stroke-width="1.1"/>
<path d="M574.5,502.8V504.2M574.5,514.5V515.8M568.0,509.3H569.4M579.6,509.3H581.0" stroke="#0072B2" stroke-width="1.2" fill="none"/>
<circle cx="621.6" cy="508.6" r="5.15" fill="none" stroke="#0072B2" stroke-width="1.1"/>
<path d="M621.6,502.1V503.5M621.6,513.8V515.1M615.1,508.6H616.5M626.8,508.6H628.1" stroke="#0072B2" stroke-width="1.2" fill="none"/>
<circle cx="627.3" cy="508.6" r="5.15" fill="none" stroke="#0072B2" stroke-width="1.1"/>
<path d="M627.3,502.1V503.5M627.3,513.8V515.1M620.8,508.6H622.1M632.4,508.6H633.8" stroke="#0072B2" stroke-width="1.2" fill="none"/>
<circle cx="674.5" cy="509.3" r="5.15" fill="none" stroke="#0072B2" stroke-width="1.1"/>
<path d="M674.5,502.8V504.2M674.5,514.5V515.8M668.0,509.3H669.4M679.6,509.3H681.0" stroke="#0072B2" stroke-width="1.2" fill="none"/>
<circle cx="680.8" cy="508.6" r="5.15" fill="none" stroke="#0072B2" stroke-width="1.1"/>
<path d="M680.8,502.1V503.5M680.8,513.8V515.1M674.3,508.6H675.6M685.9,508.6H687.3" stroke="#0072B2" stroke-width="1.2" fill="none"/>
<circle cx="727.5" cy="511.6" r="5.15" fill="none" stroke="#0072B2" stroke-width="1.1"/>
<path d="M727.5,505.1V506.5M727.5,516.8V518.1M721.0,511.6H722.4M732.6,511.6H734.0" stroke="#0072B2" stroke-width="1.2" fill="none"/>
<circle cx="733.5" cy="496.3" r="5.15" fill="none" stroke="#0072B2" stroke-width="1.1"/>
<path d="M733.5,489.8V491.2M733.5,501.4V502.8M727.0,496.3H728.4M738.6,496.3H740.0" stroke="#0072B2" stroke-width="1.2" fill="none"/>
<circle cx="780.6" cy="509.5" r="5.15" fill="none" stroke="#0072B2" stroke-width="1.1"/>
<path d="M780.6,503.0V504.4M780.6,514.6V516.0M774.1,509.5H775.5M785.8,509.5H787.1" stroke="#0072B2" stroke-width="1.2" fill="none"/>
<circle cx="786.6" cy="509.5" r="5.15" fill="none" stroke="#0072B2" stroke-width="1.1"/>
<path d="M786.6,503.0V504.4M786.6,514.6V516.0M780.1,509.5H781.5M791.8,509.5H793.1" stroke="#0072B2" stroke-width="1.2" fill="none"/>
<circle cx="833.5" cy="511.6" r="5.15" fill="none" stroke="#0072B2" stroke-width="1.1"/>
<path d="M833.5,505.1V506.5M833.5,516.8V518.1M827.0,511.6H828.4M838.6,511.6H840.0" stroke="#0072B2" stroke-width="1.2" fill="none"/>
<circle cx="840.7" cy="509.5" r="5.15" fill="none" stroke="#0072B2" stroke-width="1.1"/>
<path d="M840.7,503.0V504.4M840.7,514.6V516.0M834.2,509.5H835.6M845.9,509.5H847.2" stroke="#0072B2" stroke-width="1.2" fill="none"/>
<circle cx="886.5" cy="466.3" r="5.15" fill="none" stroke="#0072B2" stroke-width="1.1"/>
<path d="M886.5,459.8V461.2M886.5,471.4V472.8M880.0,466.3H881.4M891.6,466.3H893.0" stroke="#0072B2" stroke-width="1.2" fill="none"/>
<circle cx="893.5" cy="492.5" r="5.15" fill="none" stroke="#0072B2" stroke-width="1.1"/>
<path d="M893.5,486.0V487.4M893.5,497.6V499.0M887.0,492.5H888.4M898.6,492.5H900.0" stroke="#0072B2" stroke-width="1.2" fill="none"/>
<circle cx="940.5" cy="506.5" r="5.15" fill="none" stroke="#0072B2" stroke-width="1.1"/>
<path d="M940.5,500.0V501.4M940.5,511.6V513.0M934.0,506.5H935.4M945.6,506.5H947.0" stroke="#0072B2" stroke-width="1.2" fill="none"/>
<circle cx="946.5" cy="499.3" r="5.15" fill="none" stroke="#0072B2" stroke-width="1.1"/>
<path d="M946.5,492.8V494.2M946.5,504.4V505.8M940.0,499.3H941.4M951.6,499.3H953.0" stroke="#0072B2" stroke-width="1.2" fill="none"/>
<circle cx="993.3" cy="507.5" r="5.15" fill="none" stroke="#0072B2" stroke-width="1.1"/>
<path d="M993.3,501.0V502.4M993.3,512.6V514.0M986.8,507.5H988.1M998.4,507.5H999.8" stroke="#0072B2" stroke-width="1.2" fill="none"/>
<circle cx="999.6" cy="508.3" r="5.15" fill="none" stroke="#0072B2" stroke-width="1.1"/>
<path d="M999.6,501.8V503.2M999.6,513.5V514.8M993.1,508.3H994.5M1004.8,508.3H1006.1" stroke="#0072B2" stroke-width="1.2" fill="none"/>
<circle cx="1046.5" cy="512.3" r="5.15" fill="none" stroke="#0072B2" stroke-width="1.1"/>
<path d="M1046.5,505.8V507.1M1046.5,517.4V518.8M1040.0,512.3H1041.3M1051.7,512.3H1053.0" stroke="#0072B2" stroke-width="1.2" fill="none"/>
<circle cx="1052.5" cy="509.5" r="5.15" fill="none" stroke="#0072B2" stroke-width="1.1"/>
<path d="M1052.5,503.0V504.4M1052.5,514.6V516.0M1046.0,509.5H1047.3M1057.7,509.5H1059.0" stroke="#0072B2" stroke-width="1.2" fill="none"/>
<circle cx="1099.3" cy="509.5" r="5.15" fill="none" stroke="#0072B2" stroke-width="1.1"/>
<path d="M1099.3,503.0V504.4M1099.3,514.6V516.0M1092.8,509.5H1094.1M1104.5,509.5H1105.8" stroke="#0072B2" stroke-width="1.2" fill="none"/>
<circle cx="1105.8" cy="507.5" r="5.15" fill="none" stroke="#0072B2" stroke-width="1.1"/>
<path d="M1105.8,501.0V502.4M1105.8,512.6V514.0M1099.3,507.5H1100.6M1111.0,507.5H1112.3" stroke="#0072B2" stroke-width="1.2" fill="none"/>
<circle cx="1152.3" cy="510.5" r="5.15" fill="none" stroke="#0072B2" stroke-width="1.1"/>
<path d="M1152.3,504.0V505.4M1152.3,515.6V517.0M1145.8,510.5H1147.1M1157.5,510.5H1158.8" stroke="#0072B2" stroke-width="1.2" fill="none"/>
<circle cx="1158.6" cy="513.5" r="5.15" fill="none" stroke="#0072B2" stroke-width="1.1"/>
<path d="M1158.6,507.0V508.4M1158.6,518.6V520.0M1152.1,513.5H1153.4M1163.8,513.5H1165.1" stroke="#0072B2" stroke-width="1.2" fill="none"/>
<circle cx="1205.5" cy="506.5" r="5.15" fill="none" stroke="#0072B2" stroke-width="1.1"/>
<path d="M1205.5,500.0V501.4M1205.5,511.6V513.0M1199.0,506.5H1200.3M1210.7,506.5H1212.0" stroke="#0072B2" stroke-width="1.2" fill="none"/>
<circle cx="1211.5" cy="495.5" r="5.15" fill="none" stroke="#0072B2" stroke-width="1.1"/>
<path d="M1211.5,489.0V490.4M1211.5,500.6V502.0M1205.0,495.5H1206.3M1216.7,495.5H1218.0" stroke="#0072B2" stroke-width="1.2" fill="none"/>
<circle cx="1258.2" cy="510.5" r="5.15" fill="none" stroke="#0072B2" stroke-width="1.1"/>
<path d="M1258.2,504.0V505.4M1258.2,515.6V517.0M1251.7,510.5H1253.0M1263.4,510.5H1264.7" stroke="#0072B2" stroke-width="1.2" fill="none"/>
<circle cx="1265.5" cy="511.6" r="5.15" fill="none" stroke="#0072B2" stroke-width="1.1"/>
<path d="M1265.5,505.1V506.5M1265.5,516.8V518.1M1259.0,511.6H1260.3M1270.7,511.6H1272.0" stroke="#0072B2" stroke-width="1.2" fill="none"/>
<circle cx="1311.3" cy="511.6" r="5.15" fill="none" stroke="#0072B2" stroke-width="1.1"/>
<path d="M1311.3,505.1V506.5M1311.3,516.8V518.1M1304.8,511.6H1306.1M1316.5,511.6H1317.8" stroke="#0072B2" stroke-width="1.2" fill="none"/>
<circle cx="1318.5" cy="512.5" r="5.15" fill="none" stroke="#0072B2" stroke-width="1.1"/>
<path d="M1318.5,506.0V507.4M1318.5,517.6V519.0M1312.0,512.5H1313.3M1323.7,512.5H1325.0" stroke="#0072B2" stroke-width="1.2" fill="none"/>
<circle cx="1365.3" cy="510.5" r="5.15" fill="none" stroke="#0072B2" stroke-width="1.1"/>
<path d="M1365.3,504.0V505.4M1365.3,515.6V517.0M1358.8,510.5H1360.1M1370.5,510.5H1371.8" stroke="#0072B2" stroke-width="1.2" fill="none"/>
<circle cx="96.5" cy="539.5" r="5.15" fill="#E51E10" stroke="#E51E10" stroke-width="1.1"/>
<path d="M96.5,533.0V534.4M96.5,544.6V546.0M90.0,539.5H91.3M101.7,539.5H103.0" stroke="#E51E10" stroke-width="1.2" fill="none"/>
<circle cx="143.5" cy="539.5" r="5.15" fill="#E51E10" stroke="#E51E10" stroke-width="1.1"/>
<path d="M143.5,533.0V534.4M143.5,544.6V546.0M137.0,539.5H138.3M148.7,539.5H150.0" stroke="#E51E10" stroke-width="1.2" fill="none"/>
<circle cx="202.5" cy="539.5" r="5.15" fill="#E51E10" stroke="#E51E10" stroke-width="1.1"/>
<path d="M202.5,533.0V534.4M202.5,544.6V546.0M196.0,539.5H197.3M207.7,539.5H209.0" stroke="#E51E10" stroke-width="1.2" fill="none"/>
<circle cx="249.7" cy="539.5" r="5.15" fill="#E51E10" stroke="#E51E10" stroke-width="1.1"/>
<path d="M249.7,533.0V534.4M249.7,544.6V546.0M243.2,539.5H244.5M254.8,539.5H256.2" stroke="#E51E10" stroke-width="1.2" fill="none"/>
<circle cx="255.3" cy="539.5" r="5.15" fill="#E51E10" stroke="#E51E10" stroke-width="1.1"/>
<path d="M255.3,533.0V534.4M255.3,544.6V546.0M248.8,539.5H250.2M260.4,539.5H261.8" stroke="#E51E10" stroke-width="1.2" fill="none"/>
<circle cx="302.2" cy="539.5" r="5.15" fill="#E51E10" stroke="#E51E10" stroke-width="1.1"/>
<path d="M302.2,533.0V534.4M302.2,544.6V546.0M295.7,539.5H297.1M307.3,539.5H308.7" stroke="#E51E10" stroke-width="1.2" fill="none"/>
<circle cx="309.0" cy="539.5" r="5.15" fill="#E51E10" stroke="#E51E10" stroke-width="1.1"/>
<path d="M309.0,533.0V534.4M309.0,544.6V546.0M302.5,539.5H303.9M314.1,539.5H315.5" stroke="#E51E10" stroke-width="1.2" fill="none"/>
<circle cx="355.0" cy="539.5" r="5.15" fill="#E51E10" stroke="#E51E10" stroke-width="1.1"/>
<path d="M355.0,533.0V534.4M355.0,544.6V546.0M348.5,539.5H349.9M360.1,539.5H361.5" stroke="#E51E10" stroke-width="1.2" fill="none"/>
<circle cx="361.8" cy="539.5" r="5.15" fill="#E51E10" stroke="#E51E10" stroke-width="1.1"/>
<path d="M361.8,533.0V534.4M361.8,544.6V546.0M355.3,539.5H356.7M366.9,539.5H368.3" stroke="#E51E10" stroke-width="1.2" fill="none"/>
<circle cx="408.3" cy="539.5" r="5.15" fill="#E51E10" stroke="#E51E10" stroke-width="1.1"/>
<path d="M408.3,533.0V534.4M408.3,544.6V546.0M401.8,539.5H403.2M413.4,539.5H414.8" stroke="#E51E10" stroke-width="1.2" fill="none"/>
<circle cx="415.8" cy="539.5" r="5.15" fill="#E51E10" stroke="#E51E10" stroke-width="1.1"/>
<path d="M415.8,533.0V534.4M415.8,544.6V546.0M409.3,539.5H410.7M420.9,539.5H422.3" stroke="#E51E10" stroke-width="1.2" fill="none"/>
<circle cx="461.5" cy="539.5" r="5.15" fill="#E51E10" stroke="#E51E10" stroke-width="1.1"/>
<path d="M461.5,533.0V534.4M461.5,544.6V546.0M455.0,539.5H456.4M466.6,539.5H468.0" stroke="#E51E10" stroke-width="1.2" fill="none"/>
<circle cx="468.6" cy="539.5" r="5.15" fill="#E51E10" stroke="#E51E10" stroke-width="1.1"/>
<path d="M468.6,533.0V534.4M468.6,544.6V546.0M462.1,539.5H463.5M473.8,539.5H475.1" stroke="#E51E10" stroke-width="1.2" fill="none"/>
<circle cx="515.5" cy="539.5" r="5.15" fill="#E51E10" stroke="#E51E10" stroke-width="1.1"/>
<path d="M515.5,533.0V534.4M515.5,544.6V546.0M509.0,539.5H510.4M520.6,539.5H522.0" stroke="#E51E10" stroke-width="1.2" fill="none"/>
<circle cx="521.5" cy="539.5" r="5.15" fill="#E51E10" stroke="#E51E10" stroke-width="1.1"/>
<path d="M521.5,533.0V534.4M521.5,544.6V546.0M515.0,539.5H516.4M526.6,539.5H528.0" stroke="#E51E10" stroke-width="1.2" fill="none"/>
<circle cx="568.3" cy="539.5" r="5.15" fill="#E51E10" stroke="#E51E10" stroke-width="1.1"/>
<path d="M568.3,533.0V534.4M568.3,544.6V546.0M561.8,539.5H563.1M573.4,539.5H574.8" stroke="#E51E10" stroke-width="1.2" fill="none"/>
<circle cx="574.5" cy="539.5" r="5.15" fill="#E51E10" stroke="#E51E10" stroke-width="1.1"/>
<path d="M574.5,533.0V534.4M574.5,544.6V546.0M568.0,539.5H569.4M579.6,539.5H581.0" stroke="#E51E10" stroke-width="1.2" fill="none"/>
<circle cx="621.6" cy="539.5" r="5.15" fill="#E51E10" stroke="#E51E10" stroke-width="1.1"/>
<path d="M621.6,533.0V534.4M621.6,544.6V546.0M615.1,539.5H616.5M626.8,539.5H628.1" stroke="#E51E10" stroke-width="1.2" fill="none"/>
<circle cx="627.3" cy="539.5" r="5.15" fill="#E51E10" stroke="#E51E10" stroke-width="1.1"/>
<path d="M627.3,533.0V534.4M627.3,544.6V546.0M620.8,539.5H622.1M632.4,539.5H633.8" stroke="#E51E10" stroke-width="1.2" fill="none"/>
<circle cx="674.5" cy="539.5" r="5.15" fill="#E51E10" stroke="#E51E10" stroke-width="1.1"/>
<path d="M674.5,533.0V534.4M674.5,544.6V546.0M668.0,539.5H669.4M679.6,539.5H681.0" stroke="#E51E10" stroke-width="1.2" fill="none"/>
<circle cx="680.8" cy="539.5" r="5.15" fill="#E51E10" stroke="#E51E10" stroke-width="1.1"/>
<path d="M680.8,533.0V534.4M680.8,544.6V546.0M674.3,539.5H675.6M685.9,539.5H687.3" stroke="#E51E10" stroke-width="1.2" fill="none"/>
<circle cx="727.5" cy="539.5" r="5.15" fill="#E51E10" stroke="#E51E10" stroke-width="1.1"/>
<path d="M727.5,533.0V534.4M727.5,544.6V546.0M721.0,539.5H722.4M732.6,539.5H734.0" stroke="#E51E10" stroke-width="1.2" fill="none"/>
<circle cx="733.5" cy="539.5" r="5.15" fill="#E51E10" stroke="#E51E10" stroke-width="1.1"/>
<path d="M733.5,533.0V534.4M733.5,544.6V546.0M727.0,539.5H728.4M738.6,539.5H740.0" stroke="#E51E10" stroke-width="1.2" fill="none"/>
<circle cx="780.6" cy="539.5" r="5.15" fill="#E51E10" stroke="#E51E10" stroke-width="1.1"/>
<path d="M780.6,533.0V534.4M780.6,544.6V546.0M774.1,539.5H775.5M785.8,539.5H787.1" stroke="#E51E10" stroke-width="1.2" fill="none"/>
<circle cx="786.6" cy="539.5" r="5.15" fill="#E51E10" stroke="#E51E10" stroke-width="1.1"/>
<path d="M786.6,533.0V534.4M786.6,544.6V546.0M780.1,539.5H781.5M791.8,539.5H793.1" stroke="#E51E10" stroke-width="1.2" fill="none"/>
<circle cx="833.5" cy="539.5" r="5.15" fill="#E51E10" stroke="#E51E10" stroke-width="1.1"/>
<path d="M833.5,533.0V534.4M833.5,544.6V546.0M827.0,539.5H828.4M838.6,539.5H840.0" stroke="#E51E10" stroke-width="1.2" fill="none"/>
<circle cx="840.7" cy="539.5" r="5.15" fill="#E51E10" stroke="#E51E10" stroke-width="1.1"/>
<path d="M840.7,533.0V534.4M840.7,544.6V546.0M834.2,539.5H835.6M845.9,539.5H847.2" stroke="#E51E10" stroke-width="1.2" fill="none"/>
<circle cx="886.5" cy="539.5" r="5.15" fill="#E51E10" stroke="#E51E10" stroke-width="1.1"/>
<path d="M886.5,533.0V534.4M886.5,544.6V546.0M880.0,539.5H881.4M891.6,539.5H893.0" stroke="#E51E10" stroke-width="1.2" fill="none"/>
<circle cx="893.5" cy="539.5" r="5.15" fill="#E51E10" stroke="#E51E10" stroke-width="1.1"/>
<path d="M893.5,533.0V534.4M893.5,544.6V546.0M887.0,539.5H888.4M898.6,539.5H900.0" stroke="#E51E10" stroke-width="1.2" fill="none"/>
<circle cx="940.5" cy="539.5" r="5.15" fill="#E51E10" stroke="#E51E10" stroke-width="1.1"/>
<path d="M940.5,533.0V534.4M940.5,544.6V546.0M934.0,539.5H935.4M945.6,539.5H947.0" stroke="#E51E10" stroke-width="1.2" fill="none"/>
<circle cx="946.5" cy="539.5" r="5.15" fill="#E51E10" stroke="#E51E10" stroke-width="1.1"/>
<path d="M946.5,533.0V534.4M946.5,544.6V546.0M940.0,539.5H941.4M951.6,539.5H953.0" stroke="#E51E10" stroke-width="1.2" fill="none"/>
<circle cx="993.3" cy="539.5" r="5.15" fill="#E51E10" stroke="#E51E10" stroke-width="1.1"/>
<path d="M993.3,533.0V534.4M993.3,544.6V546.0M986.8,539.5H988.1M998.4,539.5H999.8" stroke="#E51E10" stroke-width="1.2" fill="none"/>
<circle cx="999.6" cy="539.5" r="5.15" fill="#E51E10" stroke="#E51E10" stroke-width="1.1"/>
<path d="M999.6,533.0V534.4M999.6,544.6V546.0M993.1,539.5H994.5M1004.8,539.5H1006.1" stroke="#E51E10" stroke-width="1.2" fill="none"/>
<circle cx="1046.5" cy="539.5" r="5.15" fill="#E51E10" stroke="#E51E10" stroke-width="1.1"/>
<path d="M1046.5,533.0V534.4M1046.5,544.6V546.0M1040.0,539.5H1041.3M1051.7,539.5H1053.0" stroke="#E51E10" stroke-width="1.2" fill="none"/>
<circle cx="1052.5" cy="539.5" r="5.15" fill="#E51E10" stroke="#E51E10" stroke-width="1.1"/>
<path d="M1052.5,533.0V534.4M1052.5,544.6V546.0M1046.0,539.5H1047.3M1057.7,539.5H1059.0" stroke="#E51E10" stroke-width="1.2" fill="none"/>
<circle cx="1099.3" cy="539.5" r="5.15" fill="#E51E10" stroke="#E51E10" stroke-width="1.1"/>
<path d="M1099.3,533.0V534.4M1099.3,544.6V546.0M1092.8,539.5H1094.1M1104.5,539.5H1105.8" stroke="#E51E10" stroke-width="1.2" fill="none"/>
<circle cx="1105.8" cy="539.5" r="5.15" fill="#E51E10" stroke="#E51E10" stroke-width="1.1"/>
<path d="M1105.8,533.0V534.4M1105.8,544.6V546.0M1099.3,539.5H1100.6M1111.0,539.5H1112.3" stroke="#E51E10" stroke-width="1.2" fill="none"/>
<circle cx="1152.3" cy="539.5" r="5.15" fill="#E51E10" stroke="#E51E10" stroke-width="1.1"/>
<path d="M1152.3,533.0V534.4M1152.3,544.6V546.0M1145.8,539.5H1147.1M1157.5,539.5H1158.8" stroke="#E51E10" stroke-width="1.2" fill="none"/>
<circle cx="1158.6" cy="539.5" r="5.15" fill="#E51E10" stroke="#E51E10" stroke-width="1.1"/>
<path d="M1158.6,533.0V534.4M1158.6,544.6V546.0M1152.1,539.5H1153.4M1163.8,539.5H1165.1" stroke="#E51E10" stroke-width="1.2" fill="none"/>
<circle cx="1205.5" cy="539.5" r="5.15" fill="#E51E10" stroke="#E51E10" stroke-width="1.1"/>
<path d="M1205.5,533.0V534.4M1205.5,544.6V546.0M1199.0,539.5H1200.3M1210.7,539.5H1212.0" stroke="#E51E10" stroke-width="1.2" fill="none"/>
<circle cx="1211.5" cy="539.5" r="5.15" fill="#E51E10" stroke="#E51E10" stroke-width="1.1"/>
<path d="M1211.5,533.0V534.4M1211.5,544.6V546.0M1205.0,539.5H1206.3M1216.7,539.5H1218.0" stroke="#E51E10" stroke-width="1.2" fill="none"/>
<circle cx="1258.2" cy="539.5" r="5.15" fill="#E51E10" stroke="#E51E10" stroke-width="1.1"/>
<path d="M1258.2,533.0V534.4M1258.2,544.6V546.0M1251.7,539.5H1253.0M1263.4,539.5H1264.7" stroke="#E51E10" stroke-width="1.2" fill="none"/>
<circle cx="1265.5" cy="539.5" r="5.15" fill="#E51E10" stroke="#E51E10" stroke-width="1.1"/>
<path d="M1265.5,533.0V534.4M1265.5,544.6V546.0M1259.0,539.5H1260.3M1270.7,539.5H1272.0" stroke="#E51E10" stroke-width="1.2" fill="none"/>
<circle cx="1311.3" cy="539.5" r="5.15" fill="#E51E10" stroke="#E51E10" stroke-width="1.1"/>
<path d="M1311.3,533.0V534.4M1311.3,544.6V546.0M1304.8,539.5H1306.1M1316.5,539.5H1317.8" stroke="#E51E10" stroke-width="1.2" fill="none"/>
<circle cx="1318.5" cy="539.5" r="5.15" fill="#E51E10" stroke="#E51E10" stroke-width="1.1"/>
<path d="M1318.5,533.0V534.4M1318.5,544.6V546.0M1312.0,539.5H1313.3M1323.7,539.5H1325.0" stroke="#E51E10" stroke-width="1.2" fill="none"/>
<circle cx="1365.3" cy="539.5" r="5.15" fill="#E51E10" stroke="#E51E10" stroke-width="1.1"/>
<path d="M1365.3,533.0V534.4M1365.3,544.6V546.0M1358.8,539.5H1360.1M1370.5,539.5H1371.8" stroke="#E51E10" stroke-width="1.2" fill="none"/>
<path d="M200.5,456.50L192.50,468.50H208.50Z" fill="none" stroke="#000" stroke-width="1"/>
<path d="M200.5,402.50L192.50,414.50H208.50Z" fill="#9400D3" stroke="#9400D3" stroke-width="1"/>
<path d="M194.5,421.5H206.5M200.5,415.5V427.5" fill="none" stroke="#009E73" stroke-width="1"/>
<path d="M94.5,57.5H1369.5V539.5H94.5Z" fill="none" stroke="#000" stroke-width="1" shape-rendering="crispEdges"/>
<text x="81.2" y="73.2" text-anchor="end" xml:space="preserve">2000</text>
<text x="81.2" y="190.2" text-anchor="end" xml:space="preserve">1500</text>
<text x="81.2" y="308.2" text-anchor="end" xml:space="preserve">1000</text>
<text x="81.2" y="425.2" text-anchor="end" xml:space="preserve">500</text>
<text x="81.2" y="543.2" text-anchor="end" xml:space="preserve">0</text>
<text x="91.8" y="562.0" text-anchor="middle" xml:space="preserve">00:00</text>
<text x="198.1" y="562.0" text-anchor="middle" xml:space="preserve">02:00</text>
<text x="304.3" y="562.0" text-anchor="middle" xml:space="preserve">04:00</text>
<text x="410.6" y="562.0" text-anchor="middle" xml:space="preserve">06:00</text>
<text x="516.8" y="562.0" text-anchor="middle" xml:space="preserve">08:00</text>
<text x="623.0" y="562.0" text-anchor="middle" xml:space="preserve">10:00</text>
<text x="729.3" y="562.0" text-anchor="middle" xml:space="preserve">12:00</text>
<text x="835.5" y="562.0" text-anchor="middle" xml:space="preserve">14:00</text>
<text x="941.8" y="562.0" text-anchor="middle" xml:space="preserve">16:00</text>
<text x="1048.0" y="562.0" text-anchor="middle" xml:space="preserve">18:00</text>
<text x="1154.3" y="562.0" text-anchor="middle" xml:space="preserve">20:00</text>
<text x="1260.5" y="562.0" text-anchor="middle" xml:space="preserve">22:00</text>
<text x="1366.8" y="562.0" text-anchor="middle" xml:space="preserve">00:00</text>
<text x="729.5" y="32.0" text-anchor="middle" textLength="520.3" lengthAdjust="spacing" xml:space="preserve">pi25 Aug 11  near/far ICMP/TCP ping and curl times [No msmt 1AM-2AM]</text>
<text x="729.5" y="590.0" text-anchor="middle" textLength="713.5" lengthAdjust="spacing" xml:space="preserve">&lt;-START at 2AM Yday, right to 12AM Tday-&gt;, then wrap left to 1AM Tday&lt;- [ignore connecting lines]</text>
<text transform="translate(17.2,298.5) rotate(-90)" text-anchor="middle">msec</text>
<text x="1291.0" y="77.0" text-anchor="end" textLength="181.6" lengthAdjust="spacing" xml:space="preserve">"Ypingresult.txt" using 1:2</text>
<text x="1291.0" y="96.0" text-anchor="end" textLength="199.5" lengthAdjust="spacing" xml:space="preserve">"YTimetcpping.txt" using 1:2</text>
<text x="1291.0" y="115.0" text-anchor="end" textLength="248.8" lengthAdjust="spacing" xml:space="preserve">"YCustPingSiteTimes.txt" using 1:2</text>
<text x="1291.0" y="134.0" text-anchor="end" textLength="195.8" lengthAdjust="spacing" xml:space="preserve">"Yofflineresult.txt" using 1:2</text>
<text x="1291.0" y="153.0" text-anchor="end" textLength="208.1" lengthAdjust="spacing" xml:space="preserve">"Ytcpoff_record.txt" using 1:2</text>
<text x="1291.0" y="172.0" text-anchor="end" textLength="169.8" lengthAdjust="spacing" xml:space="preserve">"Ycurltime.txt" using 1:2</text>
<text x="1291.0" y="191.0" text-anchor="end" textLength="195.9" lengthAdjust="spacing" xml:space="preserve">"Ycurldnstime.txt" using 1:2</text>
<text x="1291.0" y="210.0" text-anchor="end" textLength="236.5" lengthAdjust="spacing" xml:space="preserve">"YCustPingTimeout.txt" using 1:2</text>
<text x="1291.0" y="229.0" text-anchor="end" textLength="217.0" lengthAdjust="spacing" xml:space="preserve">"Ypingtargetchange" using 1:2</text>
<text x="1291.0" y="248.0" text-anchor="end" textLength="206.1" lengthAdjust="spacing" xml:space="preserve">"YHPpingresult.txt" using 1:2</text>
<line x1="1303" y1="73.5" x2="1350" y2="73.5" stroke="#9400D3" stroke-width="1"/>
<line x1="1303" y1="92.5" x2="1350" y2="92.5" stroke="#009E73" stroke-width="1"/>
<line x1="1303" y1="111.5" x2="1350" y2="111.5" stroke="#56B4E9" stroke-width="1"/>
<rect x="1320.5" y="124.5" width="12.0" height="12.0" fill="none" stroke="#E69F00" stroke-width="1"/>
<rect x="1320.5" y="143.5" width="12.0" height="12.0" fill="#F0E442" stroke="#F0E442" stroke-width="1"/>
<circle cx="1326.5" cy="168.5" r="5.15" fill="none" stroke="#0072B2" stroke-width="1.1"/>
<path d="M1326.5,162.0V163.3M1326.5,173.7V175.0M1320.0,168.5H1321.3M1331.7,168.5H1333.0" stroke="#0072B2" stroke-width="1.2" fill="none"/>
<circle cx="1326.5" cy="187.5" r="5.15" fill="#E51E10" stroke="#E51E10" stroke-width="1.1"/>
<path d="M1326.5,181.0V182.3M1326.5,192.7V194.0M1320.0,187.5H1321.3M1331.7,187.5H1333.0" stroke="#E51E10" stroke-width="1.2" fill="none"/>
<path d="M1326.5,198.50L1318.50,210.50H1334.50Z" fill="none" stroke="#000" stroke-width="1"/>
<path d="M1326.5,217.50L1318.50,229.50H1334.50Z" fill="#9400D3" stroke="#9400D3" stroke-width="1"/>
<path d="M1320.5,244.5H1332.5M1326.5,238.5V250.5" fill="none" stroke="#009E73" stroke-width="1"/>
</svg></body></html>
